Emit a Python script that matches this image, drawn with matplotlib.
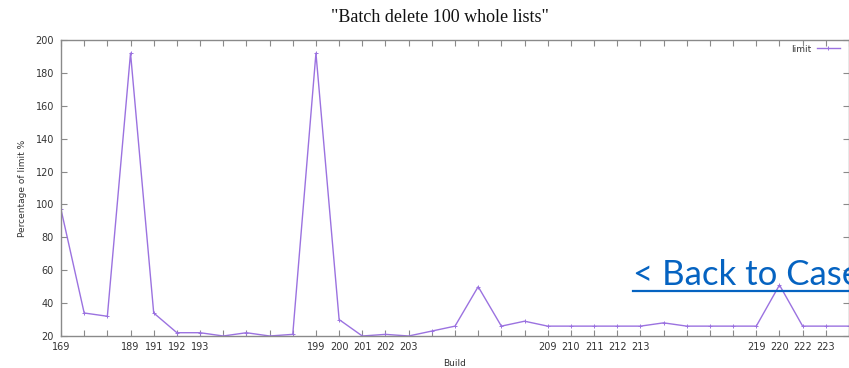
import matplotlib
matplotlib.use('Agg')
import matplotlib.pyplot as plt
from matplotlib.lines import Line2D
import numpy as np

# Dados (um ponto por build, rótulos só onde aparecem)
build_labels = ['169', '', '', '189', '191', '192', '193', '', '', '', '',
                '199', '200', '201', '202', '203', '', '', '', '', '',
                '209', '210', '211', '212', '213', '', '', '', '',
                '219', '220', '222', '223', '']
limit_pct = [97, 34, 32, 192, 34, 22, 22, 20, 22, 20, 21,
             192, 30, 20, 21, 20, 23, 26, 50, 26, 29,
             26, 26, 26, 26, 26, 28, 26, 26, 26,
             26, 51, 26, 26, 26]
y_ticks = [20, 40, 60, 80, 100, 120, 140, 160, 180, 200]

W, H = 849, 368
fig = plt.figure(figsize=(W / 100, H / 100), dpi=100)
ax = fig.add_axes([61 / W, 1 - 336 / H, 788 / W, 296 / H])

x = np.arange(len(limit_pct))
ax.plot(x, limit_pct, color='#9b72e0', linewidth=1.0, marker='+',
        markersize=3, markeredgewidth=0.7, label='limit')

ax.set_xlim(0, 34)
ax.set_ylim(20, 200)
ax.set_xticks(x)
ax.set_xticklabels(build_labels)
ax.set_yticks(y_ticks)

axis_gray = '#8a8a8a'
for s in ax.spines.values():
    s.set_color(axis_gray)
    s.set_linewidth(1.0)
ax.tick_params(direction='in', length=4, width=0.8, color=axis_gray,
               top=True, right=True, labelsize=7, labelcolor='#333333')
ax.tick_params(axis='x', pad=4)
ax.tick_params(axis='y', pad=5)

ax.set_xlabel('Build', fontsize=6.5, color='#333333', labelpad=5)
ax.set_ylabel('Percentage of limit %', fontsize=6.5, color='#333333', labelpad=6)

fig.text(440 / W, 1 - 18 / H, '"Batch delete 100 whole lists"',
         family='Liberation Serif', fontsize=13, ha='center', va='center',
         color='#111111')

leg = ax.legend(loc='center right', bbox_to_anchor=(840 / W, 1 - 49 / H),
                bbox_transform=fig.transFigure, frameon=False, fontsize=6.5,
                markerfirst=False, handlelength=2.6, handletextpad=0.6,
                borderaxespad=0, borderpad=0)
for t in leg.get_texts():
    t.set_color('#333333')

# Link sobreposto ao gráfico
link_color = '#0563c1'
fig.text(633 / W, 1 - 285 / H, '< Back to Case', family='Lato',
         fontsize=25, color=link_color, ha='left', va='baseline')
fig.add_artist(Line2D([633 / W, 1.0], [1 - 291 / H, 1 - 291 / H],
                      transform=fig.transFigure, color=link_color,
                      linewidth=1.6))

plt.savefig('out.png', dpi=100)
